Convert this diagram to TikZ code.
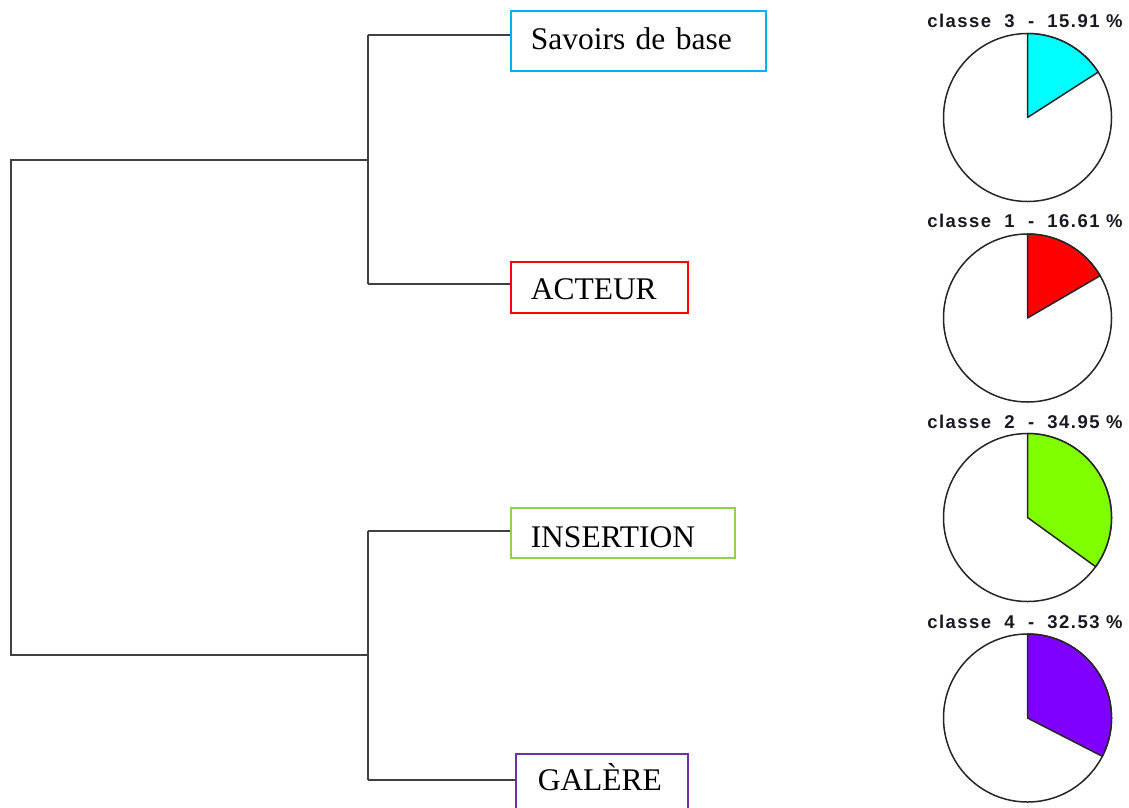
\documentclass[tikz,border=0pt]{standalone}
\usepackage{fontspec}
\setmainfont{Liberation Serif}
\newfontfamily\labfont[LetterSpace=8]{Liberation Sans}
\definecolor{cblue}{RGB}{0,176,240}
\definecolor{cred}{RGB}{255,0,0}
\definecolor{cgreen}{RGB}{146,208,80}
\definecolor{cpurple}{RGB}{112,48,160}
\definecolor{scyan}{RGB}{0,255,255}
\definecolor{sred}{RGB}{255,0,0}
\definecolor{sgreen}{RGB}{128,255,0}
\definecolor{spurple}{RGB}{128,0,255}
\definecolor{dline}{RGB}{64,64,64}
\definecolor{labtext}{RGB}{25,25,35}
\tikzset{
  catbox/.style={draw, line width=1.5pt, anchor=north west, inner xsep=20pt, inner ysep=0pt,
    text depth=0pt, align=left, font=\fontsize{31.5}{36}\selectfont},
  dendro/.style={draw=dline, line width=2pt},
  piecircle/.style={circle, draw=black!85, line width=1.5pt, fill=white, minimum size=168pt, inner sep=0pt},
  slice/.style={draw=black!85, line width=1.5pt, line join=round},
  pielabel/.style={font=\labfont\bfseries\fontsize{18.5}{20}\selectfont, text=labtext, inner sep=0pt}
}
\begin{document}
\begin{tikzpicture}[x=1pt,y=-1pt]
\clip (0,0) rectangle (1129,807);
\fill[white] (0,0) rectangle (1129,807);

% category boxes
\node[catbox, draw=cblue, minimum width=255pt, minimum height=60pt, text width=215pt, text height=18pt] (sav) at (510,10) {Savoirs de base};
\node[catbox, draw=cred, minimum width=177pt, minimum height=51pt, text width=137pt, text height=25pt] (act) at (510,261) {ACTEUR};
\node[catbox, draw=cgreen, minimum width=224pt, minimum height=50pt, text width=184pt, text height=30pt] (ins) at (510,507) {INSERTION};
\node[catbox, draw=cpurple, minimum width=172pt, minimum height=60pt, inner xsep=22pt, text width=128pt, text height=14pt] (gal) at (515,753) {GALÈRE};

% dendrogram joints
\coordinate (r1) at (11,160);
\coordinate (r2) at (11,655);
\coordinate (k1) at (368,160);
\coordinate (k2) at (368,655);
\coordinate (k1a) at (368,35);
\coordinate (k1b) at (368,284);
\coordinate (k2a) at (368,531);
\coordinate (k2b) at (368,780);

\draw[dendro] (k1) -- (r1) -- (r2) -- (k2);
\draw[dendro] (k1a) -- (k1b);
\draw[dendro] (k2a) -- (k2b);
\draw[dendro] (k1a) -- (k1a -| sav.west);
\draw[dendro] (k1b) -- (k1b -| act.west);
\draw[dendro] (k2a) -- (k2a -| ins.west);
\draw[dendro] (k2b) -- (k2b -| gal.west);

% pies
\node[piecircle] (p3) at (1027.5,117.5) {};
\node[piecircle] (p1) at (1027.5,318) {};
\node[piecircle] (p2) at (1027.5,517.5) {};
\node[piecircle] (p4) at (1027.5,718) {};

\filldraw[slice, fill=scyan] (p3.center) -- ++(90:84pt) arc[start angle=90, end angle=32.72, radius=84pt] -- cycle;
\filldraw[slice, fill=sred] (p1.center) -- ++(90:84pt) arc[start angle=90, end angle=30.20, radius=84pt] -- cycle;
\filldraw[slice, fill=sgreen] (p2.center) -- ++(90:84pt) arc[start angle=90, end angle=-35.82, radius=84pt] -- cycle;
\filldraw[slice, fill=spurple] (p4.center) -- ++(90:84pt) arc[start angle=90, end angle=-27.11, radius=84pt] -- cycle;

\node[pielabel] (l3) at (1025,20.5) {classe\ \ 3\ \ -\ \ 15.91~\%};
\node[pielabel] (l1) at (1025,221) {classe\ \ 1\ \ -\ \ 16.61~\%};
\node[pielabel] (l2) at (1025,421.5) {classe\ \ 2\ \ -\ \ 34.95~\%};
\node[pielabel] (l4) at (1025,622) {classe\ \ 4\ \ -\ \ 32.53~\%};
\end{tikzpicture}
\end{document}
